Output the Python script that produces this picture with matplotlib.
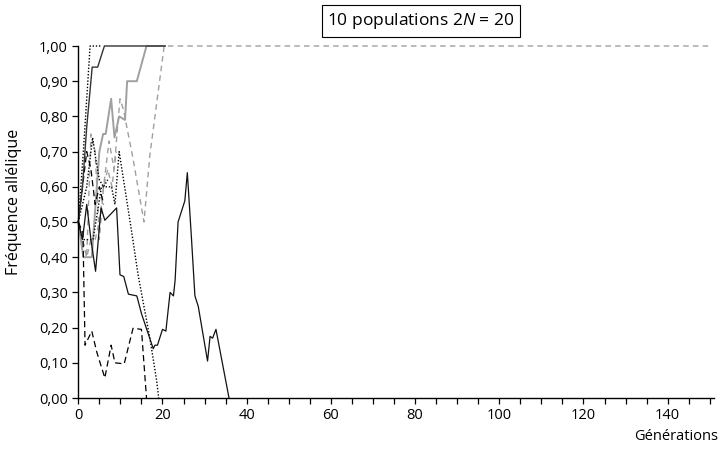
import matplotlib
matplotlib.use("Agg")
import matplotlib.pyplot as plt
from matplotlib.ticker import MultipleLocator, FuncFormatter

plt.rcParams['font.family'] = ['Open Sans', 'DejaVu Sans']
plt.rcParams['mathtext.fontset'] = 'custom'
plt.rcParams['mathtext.it'] = 'Open Sans:italic'
plt.rcParams['mathtext.rm'] = 'Open Sans'

# ---- data: generations and allele frequency for each of the 10 populations ----
g_solid_fix = [0, 1, 2, 3.3, 4.6, 6.2, 20.6]
f_solid_fix = [0.50, 0.60, 0.77, 0.94, 0.94, 1.00, 1.00]

g_solid_lost = [0, 1, 2, 3, 4.1, 5.4, 6.3, 9.1, 9.9, 10.8, 11.9, 13.9, 15, 17.8, 18.2, 18.8,
                20, 20.8, 21.8, 22.6, 23, 23.7, 25.3, 25.9, 26.9, 27.7, 28.5, 30.7, 31.3,
                31.9, 32.7, 35.8]
f_solid_lost = [0.50, 0.45, 0.55, 0.45, 0.36, 0.54, 0.505, 0.54, 0.35, 0.345, 0.295, 0.29, 0.24,
                0.14, 0.15, 0.15, 0.195, 0.19, 0.30, 0.29, 0.335, 0.50, 0.56, 0.64, 0.45, 0.29,
                0.26, 0.105, 0.175, 0.17, 0.195, 0.0]

g_gray_solid = [0, 1.2, 3.2, 5.0, 5.9, 6.5, 7.8, 8.6, 9.7, 11.1, 11.6, 13.9, 16.2, 20.6]
f_gray_solid = [0.50, 0.40, 0.40, 0.70, 0.75, 0.75, 0.85, 0.74, 0.80, 0.79, 0.90, 0.90, 1.00, 1.00]

g_dot_fix = [0, 1.2, 2.8, 5.4]
f_dot_fix = [0.50, 0.70, 1.00, 1.00]

g_dot_lost = [0, 1, 2.8, 3.5, 5.5, 6.7, 7.9, 8.7, 9.7, 12.7, 14.2, 17, 18.6, 19.1]
f_dot_lost = [0.50, 0.45, 0.45, 0.45, 0.60, 0.60, 0.60, 0.55, 0.70, 0.47, 0.35, 0.17, 0.05, 0.0]

g_dot2 = [0, 1, 2, 3.4, 4, 5, 6, 7]
f_dot2 = [0.50, 0.55, 0.60, 0.74, 0.69, 0.62, 0.60, 0.62]

g_dash_lost = [0, 1.1, 1.6, 3.2, 4.4, 6.3, 7.8, 8.7, 10.9, 13, 15, 16.2]
f_dash_lost = [0.50, 0.47, 0.15, 0.19, 0.13, 0.057, 0.15, 0.10, 0.097, 0.198, 0.195, 0.0]

g_gray_dash_fix = [0, 1, 2, 3, 4, 5, 6, 7.3, 8.5, 9.9, 10.7, 13, 15.6, 17, 20.4, 150]
f_gray_dash_fix = [0.50, 0.45, 0.40, 0.45, 0.45, 0.50, 0.60, 0.73, 0.65, 0.85, 0.82, 0.68, 0.50,
                   0.69, 1.00, 1.00]

g_gray_dash2 = [0, 1, 2, 3, 4, 5, 6, 7, 8, 9]
f_gray_dash2 = [0.50, 0.45, 0.40, 0.75, 0.70, 0.45, 0.60, 0.65, 0.60, 0.70]

g_dash2 = [0, 1, 2, 3, 4, 5, 6]
f_dash2 = [0.50, 0.60, 0.70, 0.65, 0.55, 0.60, 0.55]

title = "10 populations 2$\\mathit{N}$ = 20"
ylabel = "Fréquence allélique"
xlabel = "Générations"

fig = plt.figure(figsize=(7.24, 4.55), dpi=100)
ax = fig.add_axes([78.3 / 724, 57 / 455, (714 - 78.3) / 724, 352 / 455])

gray = "#a0a0a0"
ax.plot(g_gray_dash_fix, f_gray_dash_fix, color=gray, lw=1.0, dashes=(4, 3), clip_on=False)
ax.plot(g_gray_dash2, f_gray_dash2, color=gray, lw=1.0, dashes=(4, 3), clip_on=False)
ax.plot(g_gray_solid, f_gray_solid, color=gray, lw=1.4, clip_on=False)
ax.plot(g_dash_lost, f_dash_lost, color="black", lw=0.9, dashes=(5, 3), clip_on=False)
ax.plot(g_dash2, f_dash2, color="black", lw=0.9, dashes=(5, 3), clip_on=False)
ax.plot(g_dot_fix, f_dot_fix, color="black", lw=1.0, dashes=(1, 1.3), clip_on=False)
ax.plot(g_dot_lost, f_dot_lost, color="black", lw=1.0, dashes=(1, 1.3), clip_on=False)
ax.plot(g_dot2, f_dot2, color="black", lw=1.0, dashes=(1, 1.3), clip_on=False)
ax.plot(g_solid_lost, f_solid_lost, color="#111111", lw=0.9, clip_on=False)
ax.plot(g_solid_fix, f_solid_fix, color="#333333", lw=1.0, clip_on=False)

ax.set_xlim(0, 151)
ax.set_ylim(0, 1)
ax.spines['top'].set_visible(False)
ax.spines['right'].set_visible(False)
for s in ('left', 'bottom'):
    ax.spines[s].set_linewidth(1.0)
ax.xaxis.set_major_locator(MultipleLocator(20))
ax.xaxis.set_minor_locator(MultipleLocator(5))
ax.yaxis.set_major_locator(MultipleLocator(0.1))
ax.yaxis.set_major_formatter(FuncFormatter(lambda v, p: f"{v:.2f}".replace(".", ",")))
ax.tick_params(axis='both', which='both', direction='out', length=4, width=0.9,
               labelsize=10.5, colors='black')
ax.tick_params(axis='x', which='major', pad=3)

fig.text(421 / 724, 1 - 21 / 455, title, ha='center', va='center', fontsize=12.5,
         bbox=dict(boxstyle='square,pad=0.32', fc='white', ec='black', lw=0.8))
fig.text(14 / 724, 1 - 202 / 455, ylabel, rotation=90, ha='center', va='center', fontsize=11.5)
fig.text(718 / 724, 1 - 437 / 455, xlabel, ha='right', va='center', fontsize=10.5)

fig.savefig("out.png", dpi=100)
